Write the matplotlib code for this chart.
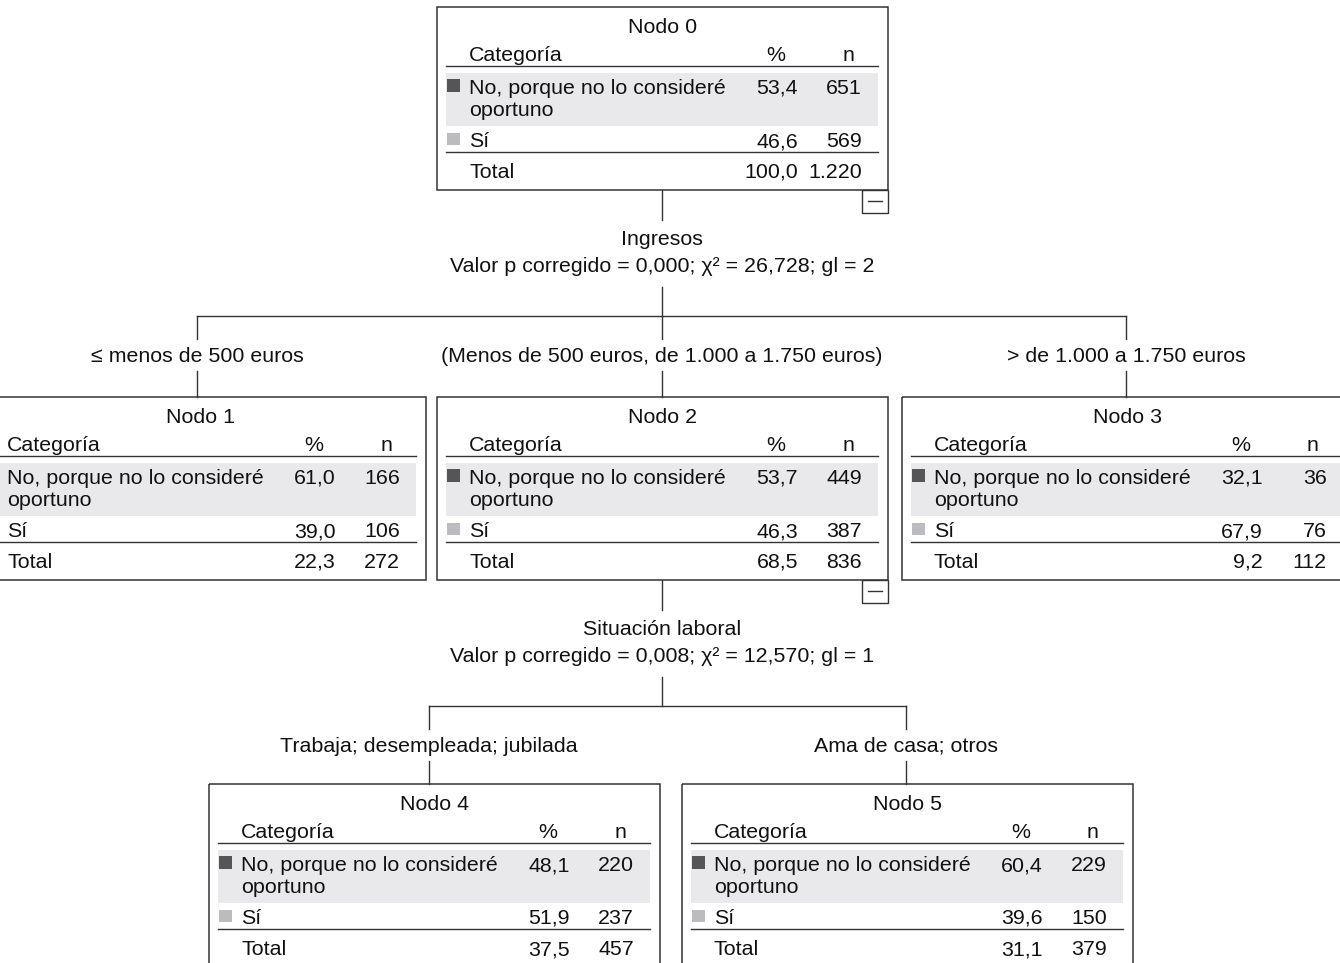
import matplotlib
matplotlib.use("Agg")
import matplotlib.pyplot as plt
from matplotlib.patches import Rectangle

plt.rcParams['font.family'] = ['Liberation Sans', 'DejaVu Sans']

# ---------------- data ----------------
node_titles = ["Nodo 0", "Nodo 1", "Nodo 2", "Nodo 3", "Nodo 4", "Nodo 5"]
cat_line1 = "No, porque no lo consideré"
cat_line2 = "oportuno"
cat_si = "Sí"
pct_no = [53.4, 61.0, 53.7, 32.1, 48.1, 60.4]
n_no = [651, 166, 449, 36, 220, 229]
pct_si = [46.6, 39.0, 46.3, 67.9, 51.9, 39.6]
n_si = [569, 106, 387, 76, 237, 150]
pct_total = [100.0, 22.3, 68.5, 9.2, 37.5, 31.1]
n_total = [1220, 272, 836, 112, 457, 379]

split_vars = ["Ingresos", "Situación laboral"]
split_p = [0.000, 0.008]
split_chi2 = [26.728, 12.570]
split_gl = [2, 1]
split_parent = [0, 2]
split_children = [[1, 2, 3], [4, 5]]
branch_labels = [["≤ menos de 500 euros",
                  "(Menos de 500 euros, de 1.000 a 1.750 euros)",
                  "> de 1.000 a 1.750 euros"],
                 ["Trabaja; desempleada; jubilada",
                  "Ama de casa; otros"]]

# ---------------- layout ----------------
W, H = 1340, 963
node_left = [437, -25, 437, 902, 209, 682]
node_top = [7, 397, 397, 397, 784, 784]
conn_x = [662, 197, 662, 1126, 429, 906]
BOX_W, BOX_H = 451, 183
FS = 15.4
DARK = "#555558"
LIGHT = "#bcbcc0"
BAND = "#e9e9eb"
EDGE = "#333333"


def fmt_num(v, dec=1):
    s = f"{v:,.{dec}f}"
    return s.replace(",", "X").replace(".", ",").replace("X", ".")


def fmt_int(v):
    return f"{v:,d}".replace(",", ".")


fig = plt.figure(figsize=(W / 100, H / 100), dpi=100)
ax = fig.add_axes([0, 0, 1, 1])
ax.set_xlim(0, W)
ax.set_ylim(H, 0)
ax.axis("off")


def txt(x, y, s, ha="left"):
    ax.text(x, y, s, fontsize=FS, ha=ha, va="baseline", color="#111111")


def draw_node(i):
    L, T = node_left[i], node_top[i]
    ax.add_patch(Rectangle((L, T), BOX_W, BOX_H, fill=False, ec=EDGE, lw=1.1, zorder=3))
    txt(L + BOX_W / 2, T + 26, node_titles[i], ha="center")
    txt(L + 32, T + 54, "Categoría")
    txt(L + 339, T + 54, "%", ha="center")
    txt(L + 411, T + 54, "n", ha="center")
    ax.plot([L + 9, L + 441], [T + 59, T + 59], color=EDGE, lw=1.0)
    ax.add_patch(Rectangle((L + 9, T + 66), 432, 53, fc=BAND, ec="none", zorder=0))
    ax.add_patch(Rectangle((L + 10, T + 72), 13, 13, fc=DARK, ec="none"))
    txt(L + 32, T + 87, cat_line1)
    txt(L + 32, T + 109, cat_line2)
    txt(L + 361, T + 87, fmt_num(pct_no[i]), ha="right")
    txt(L + 425, T + 87, fmt_int(n_no[i]), ha="right")
    ax.add_patch(Rectangle((L + 10, T + 126), 13, 12, fc=LIGHT, ec="none"))
    txt(L + 32, T + 140, cat_si)
    txt(L + 361, T + 140, fmt_num(pct_si[i]), ha="right")
    txt(L + 425, T + 140, fmt_int(n_si[i]), ha="right")
    ax.plot([L + 9, L + 441], [T + 145, T + 145], color=EDGE, lw=1.0)
    txt(L + 32, T + 171, "Total")
    txt(L + 361, T + 171, fmt_num(pct_total[i]), ha="right")
    txt(L + 425, T + 171, fmt_int(n_total[i]), ha="right")


for i in range(len(node_titles)):
    draw_node(i)

for s, parent in enumerate(split_parent):
    px = conn_x[parent]
    bottom = node_top[parent] + BOX_H
    L = node_left[parent]
    # collapse box
    ax.add_patch(Rectangle((L + 425, bottom), 26, 23, fill=False, ec=EDGE, lw=1.0))
    ax.plot([L + 431, L + 445], [bottom + 11.5, bottom + 11.5], color=EDGE, lw=1.0)
    # vertical from parent
    ax.plot([px, px], [bottom, bottom + 30], color=EDGE, lw=1.0)
    txt(px, bottom + 55, split_vars[s], ha="center")
    txt(px, bottom + 82,
        f"Valor p corregido = {fmt_num(split_p[s], 3)}; χ² = {fmt_num(split_chi2[s], 3)}; gl = {split_gl[s]}",
        ha="center")
    hy = bottom + 126
    ax.plot([px, px], [bottom + 97, hy], color=EDGE, lw=1.0)
    kids = split_children[s]
    xs = [conn_x[k] for k in kids]
    ax.plot([min(xs), max(xs)], [hy, hy], color=EDGE, lw=1.0)
    for k, lab in zip(kids, branch_labels[s]):
        cx = conn_x[k]
        ax.plot([cx, cx], [hy, hy + 23], color=EDGE, lw=1.0)
        txt(cx, hy + 46, lab, ha="center")
        ax.plot([cx, cx], [hy + 55, node_top[k]], color=EDGE, lw=1.0)

fig.savefig("out.png", dpi=100)
